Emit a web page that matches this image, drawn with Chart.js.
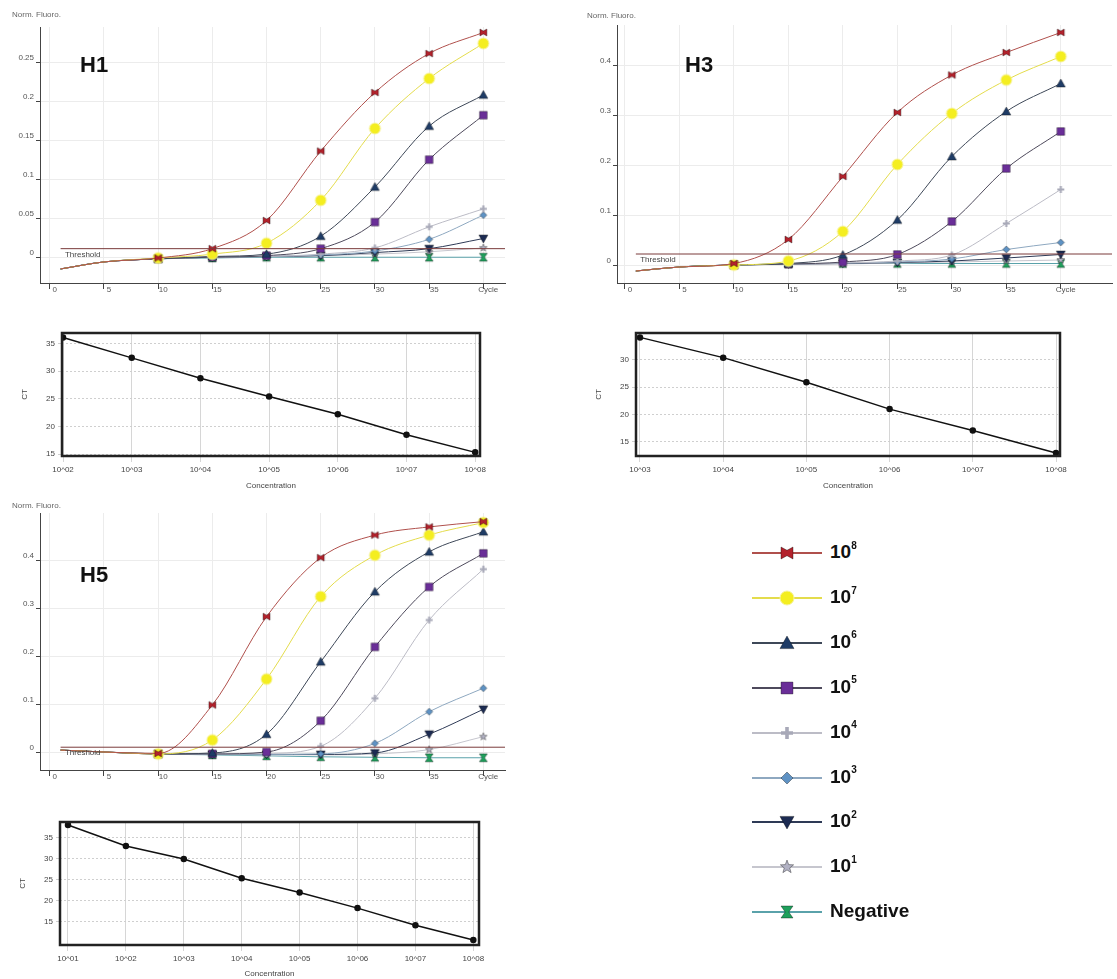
<!DOCTYPE html>
<html>
<head>
<meta charset="utf-8">
<script src="https://cdn.jsdelivr.net/npm/chart.js@4.4.1/dist/chart.umd.min.js"></script>
<style>
  body { margin: 0; background: #fff; }
  #page { position: relative; width: 1117px; height: 979px; overflow: hidden; font-family: "Liberation Sans", Arial, sans-serif; }
  #page canvas { position: absolute; }
  .leg { position: absolute; height: 22px; }
  .leg canvas { position: absolute; left: 0; top: 0; }
  .leg span { position: absolute; left: 78px; top: -1px; font-weight: bold; font-size: 19px; color: #111; white-space: nowrap; }
  .leg sup { font-size: 10px; position: relative; top: -2px; }
</style>
</head>
<body>
<div id="page">
  <canvas id="h1amp" width="545" height="300" style="left:0;top:0"></canvas>
  <canvas id="h3amp" width="557" height="300" style="left:560px;top:0"></canvas>
  <canvas id="h1std" width="470" height="170" style="left:20px;top:325px"></canvas>
  <canvas id="h3std" width="476" height="170" style="left:594px;top:325px"></canvas>
  <canvas id="h5amp" width="545" height="300" style="left:0;top:495px"></canvas>
  <canvas id="h5std" width="471" height="165" style="left:18px;top:814px"></canvas>
  <div id="legend"></div>
</div>
<script>
// cycles where the amplification curves were read
const cycles = [1, 5, 10, 15, 20, 25, 30, 35, 40];

const seriesNames = ['10^8', '10^7', '10^6', '10^5', '10^4', '10^3', '10^2', '10^1', 'Negative'];
const seriesExp = ['8', '7', '6', '5', '4', '3', '2', '1', null];

// H1 normalised fluorescence, one row per standard
const h1Values = [
    [-0.015, -0.006, -0.001, 0.011, 0.047, 0.136, 0.211, 0.261, 0.288],
    [-0.015, -0.006, -0.001, 0.004, 0.018, 0.073, 0.165, 0.229, 0.274],
    [-0.015, -0.006, -0.002, 0.001, 0.004, 0.027, 0.090, 0.168, 0.208],
    [-0.015, -0.006, -0.002, 0.000, 0.002, 0.011, 0.045, 0.125, 0.182],
    [-0.015, -0.006, -0.002, 0.000, 0.001, 0.004, 0.012, 0.039, 0.062],
    [-0.015, -0.006, -0.002, 0.000, 0.001, 0.003, 0.008, 0.023, 0.054],
    [-0.015, -0.006, -0.002, 0.000, 0.001, 0.002, 0.006, 0.011, 0.024],
    [-0.015, -0.006, -0.002, 0.000, 0.001, 0.002, 0.004, 0.007, 0.012],
    [-0.015, -0.006, -0.002, -0.001, 0.000, 0.000, 0.000, 0.000, 0.000]
];
const h1Threshold = 0.011;

const h3Values = [
    [-0.012, -0.004, 0.003, 0.051, 0.177, 0.305, 0.380, 0.425, 0.465],
    [-0.012, -0.004, 0.000, 0.008, 0.067, 0.201, 0.303, 0.370, 0.417],
    [-0.012, -0.004, 0.000, 0.003, 0.020, 0.090, 0.217, 0.307, 0.363],
    [-0.012, -0.004, 0.000, 0.002, 0.006, 0.021, 0.087, 0.193, 0.267],
    [-0.012, -0.004, 0.000, 0.002, 0.004, 0.008, 0.020, 0.083, 0.151],
    [-0.012, -0.004, 0.000, 0.002, 0.004, 0.006, 0.012, 0.031, 0.045],
    [-0.012, -0.004, 0.000, 0.002, 0.003, 0.005, 0.008, 0.014, 0.021],
    [-0.012, -0.004, 0.000, 0.001, 0.002, 0.004, 0.006, 0.008, 0.010],
    [-0.012, -0.004, 0.000, 0.002, 0.003, 0.003, 0.003, 0.003, 0.003]
];
const h3Threshold = 0.022;

const h5Values = [
    [0.004, 0.000, -0.003, 0.098, 0.282, 0.405, 0.452, 0.469, 0.480],
    [0.004, 0.000, -0.004, 0.025, 0.152, 0.324, 0.410, 0.452, 0.478],
    [0.004, 0.000, -0.004, -0.002, 0.037, 0.188, 0.334, 0.417, 0.459],
    [0.004, 0.000, -0.004, -0.004, 0.000, 0.065, 0.219, 0.344, 0.414],
    [0.004, 0.000, -0.004, -0.004, -0.003, 0.012, 0.112, 0.275, 0.381],
    [0.004, 0.000, -0.004, -0.005, -0.005, -0.004, 0.018, 0.084, 0.133],
    [0.004, 0.000, -0.004, -0.005, -0.005, -0.005, -0.002, 0.037, 0.089],
    [0.004, 0.000, -0.004, -0.005, -0.006, -0.006, -0.004, 0.005, 0.032],
    [0.004, 0.000, -0.004, -0.006, -0.008, -0.010, -0.011, -0.012, -0.012]
];
const h5Threshold = 0.010;

// standard curves: concentration vs CT
const h1Conc = [1e2, 1e3, 1e4, 1e5, 1e6, 1e7, 1e8];
const h1Ct = [36.1, 32.4, 28.7, 25.4, 22.2, 18.5, 15.3];
const h3Conc = [1e3, 1e4, 1e5, 1e6, 1e7, 1e8];
const h3Ct = [34.1, 30.4, 25.9, 21.0, 17.1, 13.0];
const h5Conc = [1e1, 1e2, 1e3, 1e4, 1e5, 1e6, 1e7, 1e8];
const h5Ct = [38.1, 33.1, 30.0, 25.4, 22.0, 18.3, 14.2, 10.7];
const ctTicks = [15, 20, 25, 30, 35];

const lineColors = ['#b0504c', '#e4dc4c', '#3e4858', '#4e4a5c', '#bcbcc6', '#8ea8c0', '#2e3a56', '#c6c6ce', '#5aa2aa'];
const markerFills = ['#b3222c', '#f4ee20', '#1f3c66', '#6a2e98', '#a8a9b8', '#5e92c4', '#1c2b52', '#b2b2c4', '#1fa05c'];
const markerShapes = ['bowtie', 'circle', 'triangle', 'square', 'plus', 'diamond', 'triangleDown', 'star', 'hourglass'];
const plotSizes = [3.5, 5.5, 4.5, 4.5, 3.5, 3.5, 4.5, 4, 4];
const legendSizes = [6, 7, 7, 7, 6, 6, 7, 7, 6];

Chart.defaults.font.family = '"Liberation Sans", Arial, sans-serif';
Chart.defaults.font.size = 8;
Chart.defaults.color = '#555';

function markerCanvas (shape, fill, r) {
    const size = Math.ceil(r * 2 + 4);
    const c = document.createElement('canvas');
    c.width = size; c.height = size;
    const g = c.getContext('2d');
    const m = size / 2;
    g.fillStyle = fill;
    g.strokeStyle = shape === 'circle' ? '#f6f2a0' : 'rgba(0,0,0,0.35)';
    g.lineWidth = 1;
    g.beginPath();
    switch (shape) {
    case 'bowtie':
        g.moveTo(m - r, m - r); g.lineTo(m, m - r * 0.45); g.lineTo(m + r, m - r);
        g.lineTo(m + r, m + r); g.lineTo(m, m + r * 0.45); g.lineTo(m - r, m + r);
        break;
    case 'hourglass':
        g.moveTo(m - r, m - r); g.lineTo(m + r, m - r); g.lineTo(m + r * 0.3, m);
        g.lineTo(m + r, m + r); g.lineTo(m - r, m + r); g.lineTo(m - r * 0.3, m);
        break;
    case 'circle':
        g.arc(m, m, r, 0, Math.PI * 2);
        break;
    case 'triangle':
        g.moveTo(m, m - r); g.lineTo(m + r, m + r * 0.8); g.lineTo(m - r, m + r * 0.8);
        break;
    case 'triangleDown':
        g.moveTo(m, m + r); g.lineTo(m + r, m - r * 0.8); g.lineTo(m - r, m - r * 0.8);
        break;
    case 'square':
        g.rect(m - r * 0.85, m - r * 0.85, r * 1.7, r * 1.7);
        break;
    case 'diamond':
        g.moveTo(m, m - r); g.lineTo(m + r, m); g.lineTo(m, m + r); g.lineTo(m - r, m);
        break;
    case 'plus':
        g.rect(m - r, m - r * 0.3, r * 2, r * 0.6);
        g.rect(m - r * 0.3, m - r, r * 0.6, r * 2);
        break;
    case 'star':
        for (let k = 0; k < 10; k++) {
            const rr = k % 2 === 0 ? r : r * 0.42;
            const a = -Math.PI / 2 + k * Math.PI / 5;
            g.lineTo(m + rr * Math.cos(a), m + rr * Math.sin(a));
        }
        break;
    }
    g.closePath();
    g.fill();
    if (shape !== 'plus') g.stroke();
    return c;
}

const plotMarkers = markerShapes.map((s, i) => markerCanvas(s, markerFills[i], plotSizes[i]));

const panelText = {
    id: 'panelText',
    afterDraw (chart, args, opts) {
        const ctx = chart.ctx;
        ctx.save();
        if (opts.corner) {
            ctx.font = '8px "Liberation Sans", Arial';
            ctx.fillStyle = '#666';
            ctx.textBaseline = 'middle';
            ctx.fillText(opts.corner, opts.cornerX, opts.cornerY);
        }
        if (opts.big) {
            ctx.font = 'bold 22px "Liberation Sans", Arial';
            ctx.fillStyle = '#111';
            ctx.textBaseline = 'alphabetic';
            ctx.fillText(opts.big, opts.bigX, opts.bigY);
        }
        if (opts.threshold !== undefined) {
            const x = chart.scales.x.getPixelForValue(1.4);
            const y = chart.scales.y.getPixelForValue(opts.threshold);
            ctx.font = '8px "Liberation Sans", Arial';
            ctx.fillStyle = '#444';
            ctx.textBaseline = 'top';
            ctx.fillText('Threshold', x, y + 2);
        }
        ctx.restore();
    }
};

const frame = {
    id: 'frame',
    afterDatasetsDraw (chart) {
        const a = chart.chartArea;
        const ctx = chart.ctx;
        ctx.save();
        ctx.strokeStyle = '#222';
        ctx.lineWidth = 2.5;
        ctx.strokeRect(a.left, a.top, a.right - a.left, a.bottom - a.top);
        ctx.restore();
    }
};

function ampChart (id, values, threshold, o) {
    const datasets = values.map((vals, i) => ({
        label: seriesNames[i],
        data: cycles.map((c, j) => ({ x: c, y: vals[j] })),
        borderColor: lineColors[i],
        borderWidth: 1,
        cubicInterpolationMode: 'monotone',
        pointStyle: plotMarkers[i],
        pointRadius: (ctx) => (ctx.raw && ctx.raw.x >= 10 ? 4 : 0)
    }));
    datasets.push({
        label: 'Threshold',
        data: [{ x: 1, y: threshold }, { x: o.xMax, y: threshold }],
        borderColor: '#7a3a3a',
        borderWidth: 1,
        pointRadius: 0,
        order: -1
    });

    new Chart(document.getElementById(id), {
        type: 'line',
        plugins: [panelText],
        data: { datasets },
        options: {
            responsive: false,
            animation: false,
            layout: { padding: o.pad },
            plugins: {
                legend: { display: false },
                tooltip: { enabled: false },
                panelText: {
                    corner: 'Norm. Fluoro.', cornerX: o.cornerX, cornerY: o.cornerY,
                    big: o.big, bigX: o.bigX, bigY: o.bigY,
                    threshold
                }
            },
            scales: {
                x: {
                    type: 'linear',
                    min: o.xMin,
                    max: o.xMax,
                    afterFit: (s) => { s.height = 17; },
                    ticks: {
                        stepSize: 5,
                        includeBounds: false,
                        autoSkip: false,
                        maxRotation: 0,
                        labelOffset: 5,
                        padding: -4,
                        callback: (v) => (v === 40 ? 'Cycle' : v)
                    },
                    grid: { color: '#ececec', tickLength: 6, tickColor: '#444' },
                    border: { color: '#444' }
                },
                y: {
                    type: 'linear',
                    min: o.yMin,
                    max: o.yMax,
                    afterFit: (s) => { s.width = o.yWidth; },
                    ticks: {
                        stepSize: o.yStep,
                        includeBounds: false,
                        labelOffset: -4,
                        padding: 2,
                        callback: (v) => String(parseFloat(v.toFixed(3)))
                    },
                    grid: { color: '#ececec', tickLength: 4, tickColor: '#444' },
                    border: { color: '#444' }
                }
            }
        }
    });
}

function stdChart (id, conc, ct, o) {
    new Chart(document.getElementById(id), {
        type: 'line',
        plugins: [frame],
        data: {
            datasets: [{
                data: conc.map((c, i) => ({ x: c, y: ct[i] })),
                borderColor: '#111',
                borderWidth: 1.5,
                pointRadius: 2.5,
                pointBackgroundColor: '#111',
                pointBorderColor: '#111',
                tension: 0
            }]
        },
        options: {
            responsive: false,
            animation: false,
            layout: { padding: o.pad },
            plugins: { legend: { display: false }, tooltip: { enabled: false } },
            scales: {
                x: {
                    type: 'logarithmic',
                    min: o.xMin,
                    max: o.xMax,
                    afterFit: (s) => { s.height = o.xHeight; },
                    afterBuildTicks: (s) => { s.ticks = conc.map(v => ({ value: v })); },
                    ticks: {
                        autoSkip: false,
                        maxRotation: 0,
                        color: '#444',
                        callback: (v) => '10^0' + Math.round(Math.log10(v))
                    },
                    grid: { color: '#d6d6d6', tickLength: 6 },
                    border: { display: false },
                    title: { display: true, text: 'Concentration', color: '#444', padding: { top: 0, bottom: 0 } }
                },
                y: {
                    type: 'linear',
                    min: o.yMin,
                    max: o.yMax,
                    afterFit: (s) => { s.width = 42; },
                    afterBuildTicks: (s) => {
                        s.ticks = ctTicks.filter(v => v > o.yMin && v < o.yMax).map(v => ({ value: v }));
                    },
                    ticks: { color: '#444' },
                    grid: { color: '#cfcfcf', tickLength: 4 },
                    border: { display: false, dash: [2, 2] },
                    title: { display: true, text: 'CT', color: '#444', padding: { top: 0, bottom: 2 } }
                }
            }
        }
    });
}

ampChart('h1amp', h1Values, h1Threshold, {
    xMin: -0.9, xMax: 42, yMin: -0.033, yMax: 0.295, yStep: 0.05, yWidth: 40,
    pad: { left: 0, top: 27, right: 40, bottom: 0 },
    cornerX: 12, cornerY: 15, big: 'H1', bigX: 80, bigY: 72
});
ampChart('h3amp', h3Values, h3Threshold, {
    xMin: -0.73, xMax: 44.7, yMin: -0.036, yMax: 0.48, yStep: 0.1, yWidth: 57,
    pad: { left: 0, top: 25, right: 5, bottom: 0 },
    cornerX: 27, cornerY: 16, big: 'H3', bigX: 125, bigY: 72
});
ampChart('h5amp', h5Values, h5Threshold, {
    xMin: -0.9, xMax: 42, yMin: -0.0375, yMax: 0.498, yStep: 0.1, yWidth: 40,
    pad: { left: 0, top: 18, right: 40, bottom: 8 },
    cornerX: 12, cornerY: 11, big: 'H5', bigX: 80, bigY: 87
});

stdChart('h1std', h1Conc, h1Ct, {
    xMin: Math.pow(10, 1.985), xMax: Math.pow(10, 8.07), yMin: 14.64, yMax: 36.9, xHeight: 35,
    pad: { left: 0, top: 8, right: 10, bottom: 4 }
});
stdChart('h3std', h3Conc, h3Ct, {
    xMin: Math.pow(10, 2.952), xMax: Math.pow(10, 8.048), yMin: 12.44, yMax: 34.9, xHeight: 35,
    pad: { left: 0, top: 8, right: 10, bottom: 4 }
});
stdChart('h5std', h5Conc, h5Ct, {
    xMin: Math.pow(10, 0.862), xMax: Math.pow(10, 8.098), yMin: 9.52, yMax: 38.8, xHeight: 34,
    pad: { left: 0, top: 8, right: 10, bottom: 0 }
});

// legend, built from the same series lists
const legendTop = 553;
const legendGap = 44.9;
const legend = document.getElementById('legend');
seriesNames.forEach((name, i) => {
    const row = document.createElement('div');
    row.className = 'leg';
    row.style.left = '752px';
    row.style.top = (legendTop + i * legendGap - 11) + 'px';
    const c = document.createElement('canvas');
    c.width = 72; c.height = 22;
    const g = c.getContext('2d');
    g.strokeStyle = lineColors[i];
    g.lineWidth = 2;
    g.beginPath(); g.moveTo(0, 11); g.lineTo(70, 11); g.stroke();
    const mk = markerCanvas(markerShapes[i], markerFills[i], legendSizes[i]);
    g.drawImage(mk, 35 - mk.width / 2, 11 - mk.height / 2);
    row.appendChild(c);
    const t = document.createElement('span');
    if (seriesExp[i]) {
        t.innerHTML = '10<sup>' + seriesExp[i] + '</sup>';
    } else {
        t.textContent = name;
    }
    row.appendChild(t);
    legend.appendChild(row);
});
</script>
</body>
</html>
